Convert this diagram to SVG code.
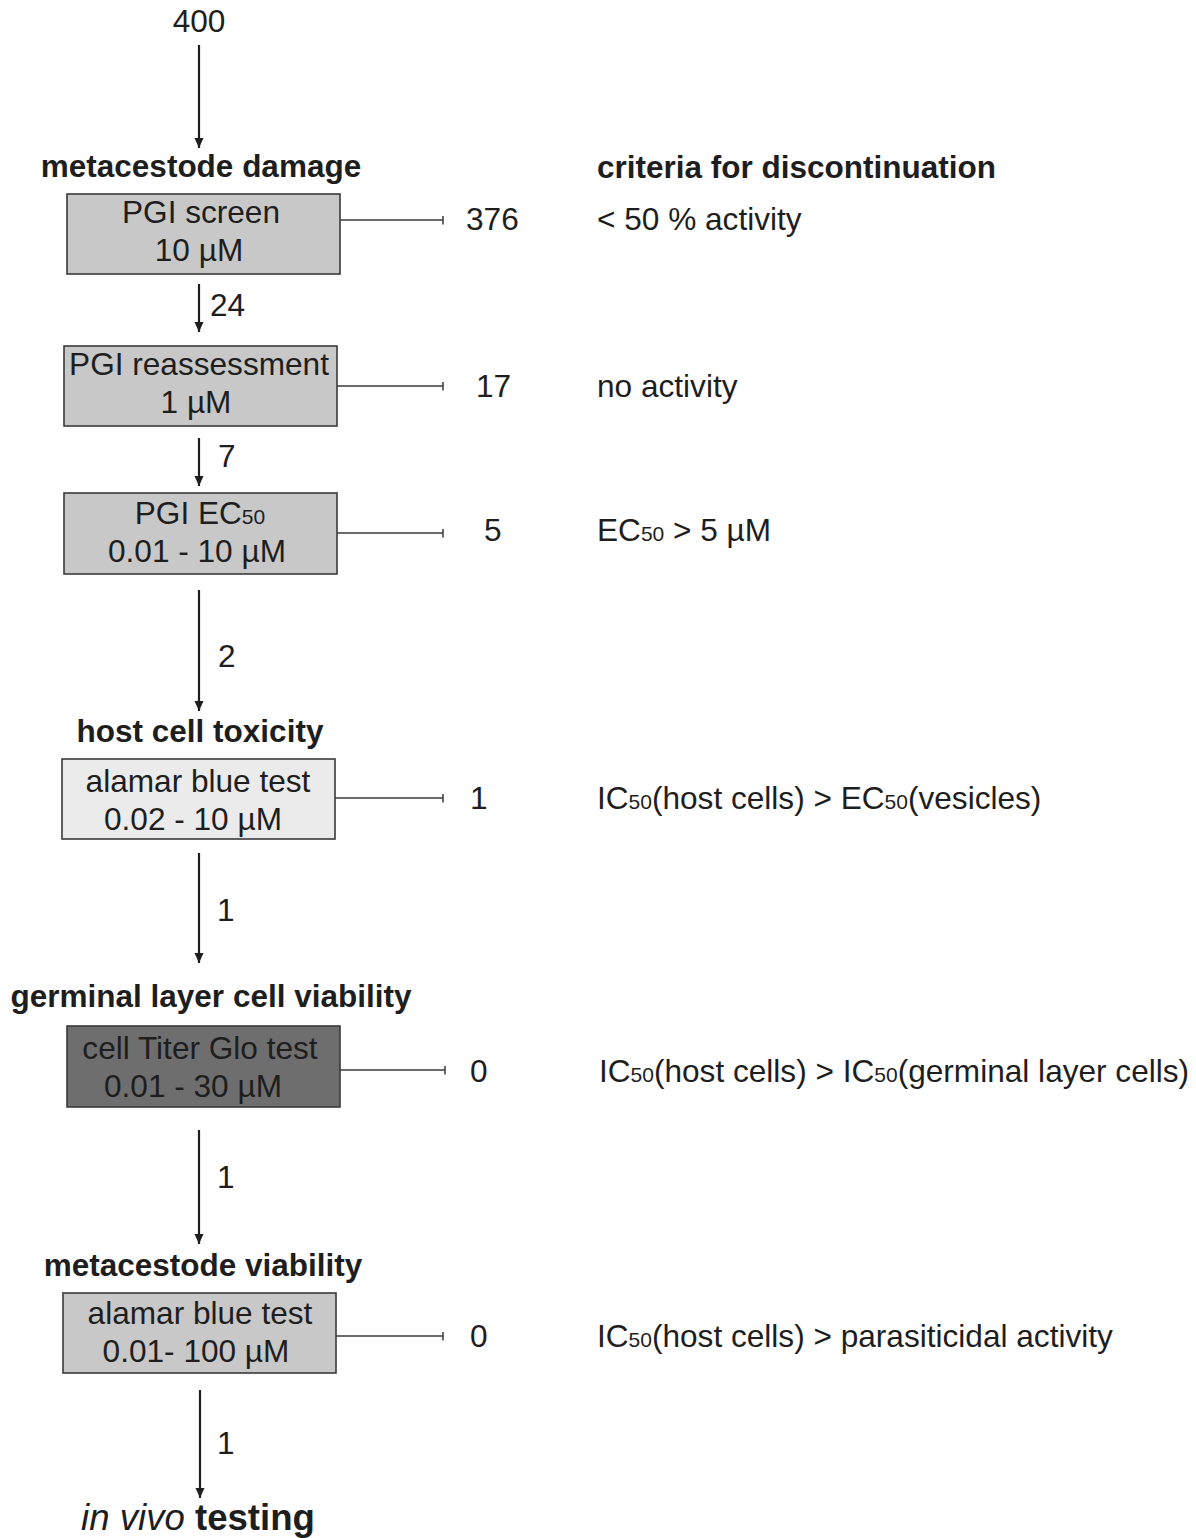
<svg xmlns="http://www.w3.org/2000/svg" width="1196" height="1538" viewBox="0 0 1196 1538">
<style>
  text { font-family: "Liberation Sans", Arial, sans-serif; fill: #1e1e1e; }
  .t { font-size: 31.6px; }
  .c { text-anchor: middle; }
  .h { font-size: 31.5px; font-weight: bold; }
  .s { font-size: 21px; }
  .box { stroke: #3a3a3a; stroke-width: 1.6; }
  .mid { fill: #c8c8c8; }
  .light { fill: #ebebeb; }
  .dark { fill: #6e6e6e; }
  .arrow { stroke: #1e1e1e; stroke-width: 2.2; fill: none; marker-end: url(#ah); }
  .tee { stroke: #3a3a3a; stroke-width: 1.3; fill: none; marker-end: url(#tee); }
</style>
<defs>
  <marker id="ah" viewBox="0 0 10 10" refX="10" refY="5" markerWidth="10" markerHeight="10" orient="auto" markerUnits="userSpaceOnUse">
    <path d="M0,0.5 L10,5 L0,9.5 z" fill="#1e1e1e"/>
  </marker>
  <marker id="tee" viewBox="0 0 2 12" refX="1" refY="6" markerWidth="1.6" markerHeight="9" orient="auto" markerUnits="userSpaceOnUse">
    <rect x="0" y="0" width="2" height="12" fill="#3a3a3a"/>
  </marker>
</defs>
<rect width="1196" height="1538" fill="#ffffff"/>

<g id="connectors">
  <line class="arrow" x1="199" y1="45" x2="199" y2="148"/>
  <line class="arrow" x1="199" y1="284" x2="199" y2="332"/>
  <line class="arrow" x1="199" y1="438" x2="199" y2="486"/>
  <line class="arrow" x1="199" y1="590" x2="199" y2="711"/>
  <line class="arrow" x1="199" y1="853" x2="199" y2="963"/>
  <line class="arrow" x1="199" y1="1130" x2="199" y2="1244"/>
  <line class="arrow" x1="200" y1="1390" x2="200" y2="1498"/>
  <line class="tee" x1="340" y1="220" x2="443" y2="220"/>
  <line class="tee" x1="337" y1="386" x2="443" y2="386"/>
  <line class="tee" x1="337" y1="533" x2="443" y2="533"/>
  <line class="tee" x1="335" y1="798" x2="443" y2="798"/>
  <line class="tee" x1="340" y1="1070" x2="445" y2="1070"/>
  <line class="tee" x1="336" y1="1336" x2="443" y2="1336"/>
  <text class="t" x="199" y="32" text-anchor="middle">400</text>
  <text class="t" x="210" y="316">24</text>
  <text class="t" x="218" y="467">7</text>
  <text class="t" x="218" y="667">2</text>
  <text class="t" x="217" y="921">1</text>
  <text class="t" x="217" y="1188">1</text>
  <text class="t" x="217" y="1454">1</text>
  <text class="t" x="466" y="230">376</text>
  <text class="t" x="476" y="397">17</text>
  <text class="t" x="484" y="541">5</text>
  <text class="t" x="470" y="809">1</text>
  <text class="t" x="470" y="1082">0</text>
  <text class="t" x="470" y="1347">0</text>
</g>

<g id="headings">
  <text class="h c" x="201" y="177">metacestode damage</text>
  <text class="h" x="597" y="178">criteria for discontinuation</text>
  <text class="h c" x="200" y="742">host cell toxicity</text>
  <text class="h c" x="211" y="1007">germinal layer cell viability</text>
  <text class="h c" x="203" y="1276">metacestode viability</text>
  <text x="198" y="1530" text-anchor="middle" style="font-size:36.6px"><tspan font-style="italic">in vivo</tspan> <tspan font-weight="bold">testing</tspan></text>
</g>

<g id="node-pgi-screen">
  <rect class="box mid" x="67" y="194" width="273" height="80"/>
  <text class="t c" x="201" y="223">PGI screen</text>
  <text class="t c" x="199" y="261">10 µM</text>
</g>
<g id="node-pgi-reassessment">
  <rect class="box mid" x="64" y="346" width="273" height="80"/>
  <text class="t c" x="199" y="375">PGI reassessment</text>
  <text class="t c" x="196" y="413">1 µM</text>
</g>
<g id="node-pgi-ec50">
  <rect class="box mid" x="64" y="493" width="273" height="81"/>
  <text class="t c" x="200" y="524">PGI EC<tspan class="s">50</tspan></text>
  <text class="t c" x="197" y="562">0.01 - 10 µM</text>
</g>
<g id="node-host-alamar">
  <rect class="box light" x="62" y="759" width="273" height="80"/>
  <text class="t c" x="198" y="792">alamar blue test</text>
  <text class="t c" x="193" y="830">0.02 - 10 µM</text>
</g>
<g id="node-cell-titer-glo">
  <rect class="box dark" x="67" y="1026" width="273" height="81"/>
  <text class="t c" x="200" y="1059">cell Titer Glo test</text>
  <text class="t c" x="193" y="1097">0.01 - 30 µM</text>
</g>
<g id="node-meta-alamar">
  <rect class="box mid" x="63" y="1293" width="273" height="80"/>
  <text class="t c" x="200" y="1324">alamar blue test</text>
  <text class="t c" x="196" y="1362">0.01- 100 µM</text>
</g>

<g id="criteria">
  <text class="t" x="597" y="230">&lt; 50 % activity</text>
  <text class="t" x="597" y="397">no activity</text>
  <text class="t" x="597" y="541">EC<tspan class="s">50</tspan> &gt; 5 µM</text>
  <text class="t" x="597" y="809">IC<tspan class="s">50</tspan>(host cells) &gt; EC<tspan class="s">50</tspan>(vesicles)</text>
  <text class="t" x="599" y="1082">IC<tspan class="s">50</tspan>(host cells) &gt; IC<tspan class="s">50</tspan>(germinal layer cells)</text>
  <text class="t" x="597" y="1347">IC<tspan class="s">50</tspan>(host cells) &gt; parasiticidal activity</text>
</g>
</svg>
